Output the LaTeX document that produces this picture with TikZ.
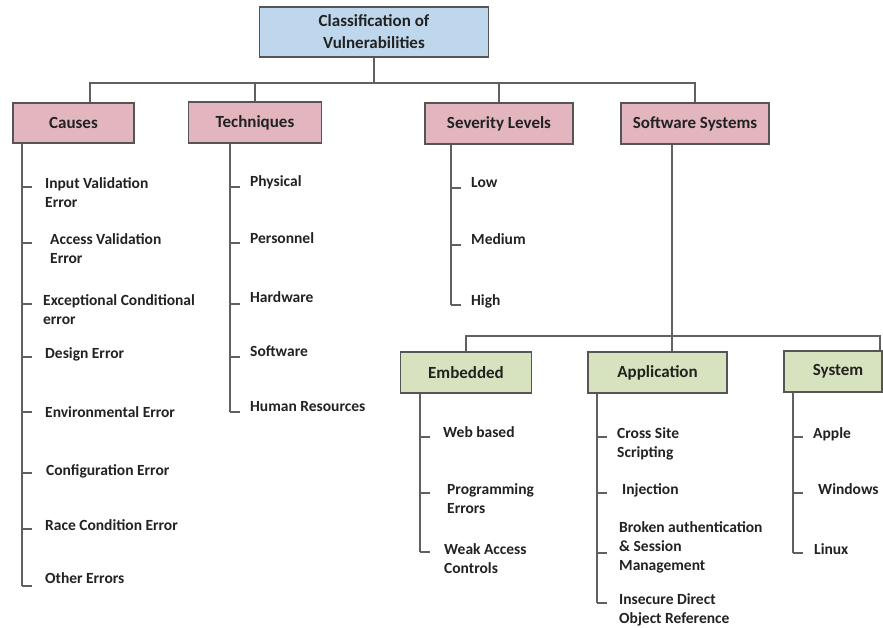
\documentclass[tikz,border=0pt]{standalone}
\usepackage{fontspec}
\setmainfont{Carlito}
\definecolor{rootfill}{HTML}{BED7EC}
\definecolor{catfill}{HTML}{E3B6BF}
\definecolor{subfill}{HTML}{D7E3BE}
\definecolor{edgecol}{HTML}{555555}
\definecolor{linecol}{HTML}{606060}
\definecolor{inkcol}{HTML}{222222}
\begin{document}
\begin{tikzpicture}[x=1pt,y=-1pt,
  conn/.style={draw=linecol, line width=1.6pt},
  box/.style={draw=edgecol, line width=1.5pt, inner sep=0pt, text=inkcol,
    font=\bfseries\fontsize{17}{22}\selectfont, align=center},
  rootbox/.style={box, fill=rootfill},
  catbox/.style={box, fill=catfill},
  subbox/.style={box, fill=subfill},
  % anchored at the baseline of the last line
  leaf/.style={anchor=base west, align=left, inner sep=0pt, text=inkcol,
    font=\bfseries\fontsize{15.5}{19}\selectfont}]
\useasboundingbox (0,0) rectangle (883,627);
\clip (0,0) rectangle (883,627);

% top level
\node[rootbox, minimum width=229pt, minimum height=50pt] (root) at (374,32)
  {Classification of\\Vulnerabilities};
\node[catbox, minimum width=121pt, minimum height=40pt] (causes) at (73.5,123) {Causes};
\node[catbox, minimum width=133pt, minimum height=41pt] (tech) at (255,122.5) {Techniques};
\node[catbox, minimum width=148pt, minimum height=41pt] (sev) at (499,123.5) {Severity Levels};
\node[catbox, minimum width=148pt, minimum height=41pt] (soft) at (695,123.5) {Software Systems};

\coordinate (hub) at (374,83);
\draw[conn] (root.south) -- (hub);
\draw[conn] ([xshift=16.5pt]causes.north) |- (hub);
\draw[conn] (soft.north) |- (hub);
\draw[conn] (tech.north) -- (tech.north |- hub);
\draw[conn] (sev.north) -- (sev.north |- hub);

% software systems subdivisions
\node[subbox, minimum width=131pt, minimum height=41pt] (emb) at (466,372.5) {Embedded};
\node[subbox, minimum width=139pt, minimum height=41pt] (app) at (657.5,372.5) {Application};
\node[subbox, minimum width=98pt, minimum height=41pt] (sys) at (833,371.5) {\hspace*{10pt}System};

\coordinate (hubb) at (672,336);
\draw[conn] (soft.south -| hubb) -- (app.north -| hubb);
\draw[conn] (emb.north) |- (hubb);
\draw[conn] ([xshift=47pt]sys.north) |- (hubb);

% Causes list
\foreach [count=\i] \ty/\tx/\by/\txt in {
  187/45/207/{Input Validation\\Error},
  243/50/263/{Access Validation\\Error},
  304/43/324/{Exceptional Conditional\\error},
  357/45/358/{Design Error},
  412/45/417/{Environmental Error},
  473/46/475/{Configuration Error},
  529/45/530/{Race Condition Error},
  586/45/583/{Other Errors}} {
  \coordinate (ca\i) at (22,\ty);
  \node[leaf] (cal\i) at (\tx,\by) {\txt};
  \draw[conn] (ca\i) -- ++(10,0);
}
\draw[conn] (causes.south -| ca1) -- (ca8);

% Techniques list
\foreach [count=\i] \ty/\by/\txt in {
  187/186/{Physical},
  243/243/{Personnel},
  304/302/{Hardware},
  357/356/{Software},
  412/411/{Human Resources}} {
  \coordinate (te\i) at (230,\ty);
  \node[leaf] (tel\i) at (250,\by) {\txt};
  \draw[conn] (te\i) -- ++(10,0);
}
\draw[conn] (tech.south -| te1) -- (te5);

% Severity list
\foreach [count=\i] \ty/\by/\txt in {
  188/187/{Low},
  245/244/{Medium},
  305/305/{High}} {
  \coordinate (se\i) at (451,\ty);
  \node[leaf] (sel\i) at (471,\by) {\txt};
  \draw[conn] (se\i) -- ++(10,0);
}
\draw[conn] (sev.south -| se1) -- (se3);

% Embedded list
\foreach [count=\i] \ty/\tx/\by/\txt in {
  437/443/437/{Web based},
  493/447/513/{Programming\\Errors},
  552/444/573/{Weak Access\\Controls}} {
  \coordinate (em\i) at (420,\ty);
  \node[leaf] (eml\i) at (\tx,\by) {\txt};
  \draw[conn] (em\i) -- ++(10,0);
}
\draw[conn] (emb.south -| em1) -- (em3);

% Application list
\foreach [count=\i] \ty/\tx/\by/\txt in {
  437/617/457/{Cross Site\\Scripting},
  493/622/494/{Injection},
  553/619/570/{Broken authentication\\\& Session\\Management},
  603/619/623/{Insecure Direct\\Object Reference}} {
  \coordinate (ap\i) at (597,\ty);
  \node[leaf] (apl\i) at (\tx,\by) {\txt};
  \draw[conn] (ap\i) -- ++(10,0);
}
\draw[conn] (app.south -| ap1) -- (ap4);

% System list
\foreach [count=\i] \ty/\tx/\by/\txt in {
  437/813/438/{Apple},
  493/818/494/{Windows},
  553/814/554/{Linux}} {
  \coordinate (sy\i) at (793,\ty);
  \node[leaf] (syl\i) at (\tx,\by) {\txt};
  \draw[conn] (sy\i) -- ++(10,0);
}
\draw[conn] (sys.south -| sy1) -- (sy3);
\end{tikzpicture}
\end{document}
